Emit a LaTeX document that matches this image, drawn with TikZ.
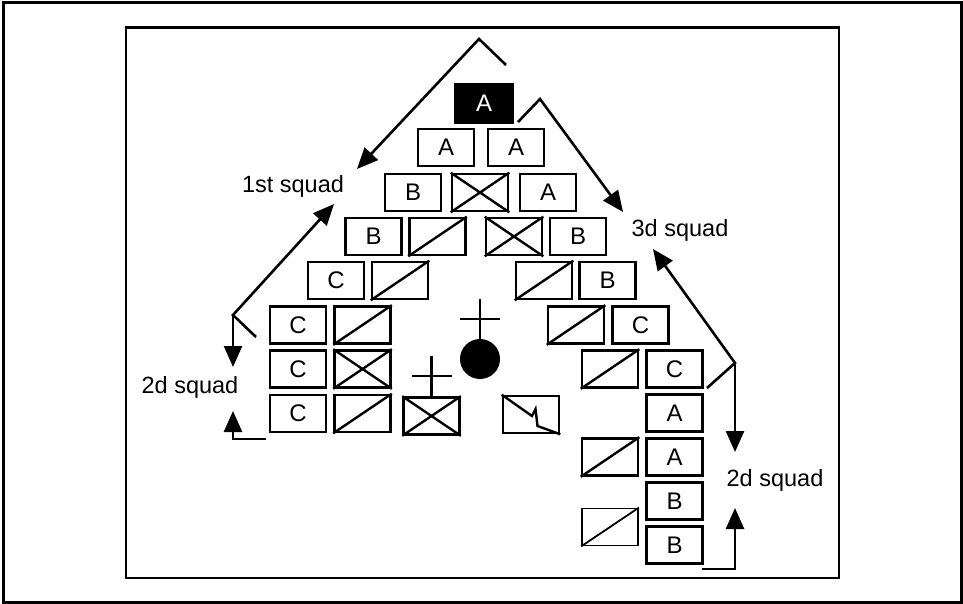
\documentclass[tikz,border=0pt]{standalone}
\usepackage{fontspec}
\setmainfont{Liberation Sans}
\usetikzlibrary{arrows.meta}
\begin{document}
\begin{tikzpicture}[x=1pt,y=-1pt,
  unit/.style={draw, line width=2.6pt, minimum width=56pt, minimum height=37pt, inner sep=0pt, font=\fontsize{24}{28}\selectfont},
  blackunit/.style={unit, fill=black, text=white, minimum width=58pt, minimum height=39pt},
  thinunit/.style={unit, line width=1.8pt},
  diag/.style={line width=2.4pt},
  conn/.style={line width=2.6pt},
  arr/.style={conn, -{Triangle[length=21pt,width=18pt]}},
  lbl/.style={font=\fontsize{23.5}{27}\selectfont, inner sep=0pt}]
\useasboundingbox (0,0) rectangle (963,604);
% frames
\draw[line width=3pt] (3.5,3) rectangle (961,602.5);
\draw[line width=2.8pt] (126,27.5) rectangle (839,578);

% row 1
\node[blackunit] (r1a) at (484,103.5) {A};
% row 2
\node[unit] (r2a) at (446,147.5) {A};
\node[unit] (r2b) at (516,147.5) {A};
% row 3
\node[unit] (r3a) at (413,192.5) {B};
\node[unit] (r3b) at (480,192.5) {};
\node[unit] (r3c) at (548,192.5) {A};
% row 4
\node[unit] (r4a) at (373.5,236.5) {B};
\node[unit] (r4b) at (437.5,236.5) {};
\node[unit] (r4c) at (514,236.5) {};
\node[unit] (r4d) at (578,236.5) {B};
% row 5
\node[unit] (r5a) at (336,280.5) {C};
\node[unit] (r5b) at (400,280.5) {};
\node[unit] (r5c) at (544,280.5) {};
\node[unit] (r5d) at (607.5,280.5) {B};
% row 6
\node[unit] (r6a) at (298,325) {C};
\node[unit] (r6b) at (362.5,325) {};
\node[unit] (r6c) at (576,325) {};
\node[unit] (r6d) at (640.5,325) {C};
% row 7
\node[unit] (r7a) at (298,369) {C};
\node[unit] (r7b) at (362.5,369) {};
\node[unit] (r7c) at (610,369) {};
\node[unit] (r7d) at (674.5,369) {C};
% row 8
\node[unit] (r8a) at (298,413.5) {C};
\node[unit] (r8b) at (362.5,413.5) {};
\node[unit] (hqx) at (431.5,416) {};
\node[unit] (sig) at (531,414.5) {};
\node[unit] (r8d) at (674.5,413) {A};
% row 9
\node[unit] (r9c) at (610,457) {};
\node[unit] (r9d) at (674.5,457) {A};
% rows 10-11
\node[unit] (r10d) at (674.5,501) {B};
\node[thinunit] (r10c) at (610,527) {};
\node[unit] (r11d) at (674.5,545) {B};

% slashes
\foreach \n in {r4b,r5b,r5c,r6b,r6c,r7c,r8b,r9c}
  \draw[diag] (\n.south west) -- (\n.north east);
\draw[line width=1.8pt] (r10c.south west) -- (r10c.north east);
% crosses
\foreach \n in {r3b,r4c,r7b,hqx}
  \draw[diag] (\n.south west) -- (\n.north east) (\n.north west) -- (\n.south east);
% signal zigzag
\draw[diag, line join=miter] (sig.north west) -- (532,416) -- (535.5,409) -- (537.5,426) -- (sig.south east);

% command post symbols
\node[circle, fill=black, minimum size=40pt, inner sep=0pt] (cp) at (480,359) {};
\coordinate (cpt) at ([yshift=40pt]cp.north);
\coordinate (cpl) at ([xshift=-20pt,yshift=20pt]cp.north);
\coordinate (cpr) at ([xshift=20pt,yshift=20pt]cp.north);
\draw[diag] (cpt) -- (cp.north);
\draw[diag] (cpl) -- (cpr);
\coordinate (hqt) at ([yshift=40pt]hqx.north);
\coordinate (hql) at ([xshift=-20pt,yshift=20pt]hqx.north);
\coordinate (hqr) at ([xshift=20pt,yshift=20pt]hqx.north);
\draw[diag] (hqt) -- (hqx.north);
\draw[diag] (hql) -- (hqr);

% labels
\node[lbl] (l1) at (293,186) {1st squad};
\node[lbl] (l2) at (190,387) {2d squad};
\node[lbl] (l3) at (680,230) {3d squad};
\node[lbl] (l4) at (775,480) {2d squad};

% arrows
\coordinate (a1s) at (506,65);
\coordinate (a1m) at (479,39);
\coordinate (a1e) at (357,169);
\draw[arr] (a1s) -- (a1m) -- (a1e);
\coordinate (a2s) at (518,122);
\coordinate (a2m) at (540,99);
\coordinate (a2e) at (623,212);
\draw[arr] (a2s) -- (a2m) -- (a2e);
\coordinate (b1s) at (256,337);
\coordinate (b1m) at (233,315);
\coordinate (b1e) at (334,204);
\coordinate (b1d) at (233,367);
\draw[arr] (b1s) -- (b1m) -- (b1e);
\draw[arr] (b1m) -- (b1d);
\coordinate (b2s) at (266,439);
\coordinate (b2m) at (233,439);
\coordinate (b2e) at (233,411);
\draw[arr] (b2s) -- (b2m) -- (b2e);
\coordinate (c1s) at (707,388);
\coordinate (c1m) at (735,363);
\coordinate (c1e) at (653,249);
\coordinate (c1d) at (735,452);
\draw[arr] (c1s) -- (c1m) -- (c1e);
\draw[arr] (c1m) -- (c1d);
\coordinate (c2s) at (702,569);
\coordinate (c2m) at (735,569);
\coordinate (c2e) at (735,508);
\draw[arr] (c2s) -- (c2m) -- (c2e);
\end{tikzpicture}
\end{document}
